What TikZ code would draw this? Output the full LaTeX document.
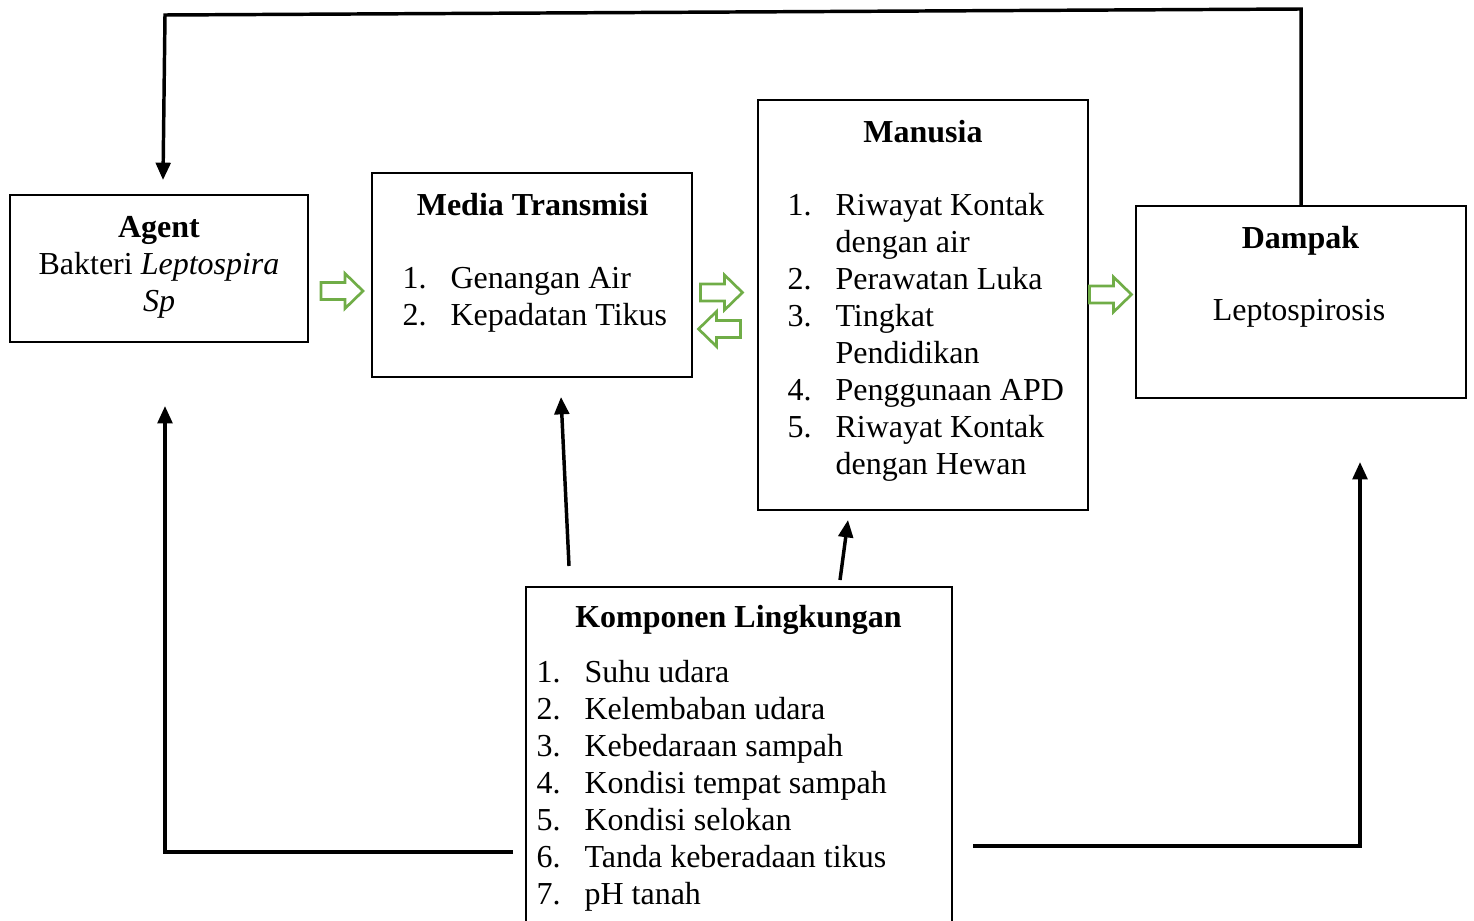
\documentclass[tikz,border=0pt]{standalone}
\usepackage{fontspec}
\setmainfont{Liberation Serif}
\usetikzlibrary{arrows.meta}
\definecolor{arrowgreen}{HTML}{70AD47}

\tikzset{
  box/.style={draw, line width=0.75pt, inner sep=0pt},
  txt/.style={inner sep=0pt, font=\fontsize{12}{13.875}\selectfont},
  arr/.style={line width=1.3pt, -{Triangle[length=6.5pt,width=5.5pt]}},
  pics/hollowarrow/.style={code={
    \draw[arrowgreen, line width=1pt, line join=miter]
      (-21,-8.5) -- (3,-8.5) -- (3,-17.5) -- (21,0) -- (3,17.5) -- (3,8.5) -- (-21,8.5) -- cycle;
  }}
}

\begin{document}
\begin{tikzpicture}[x=0.375pt, y=-0.375pt]
  \useasboundingbox (0,0) rectangle (1474,920);

  % kotak
  \node[box, minimum width=111.75pt, minimum height=55.125pt] (agent) at (159,268.5) {};
  \node[box, minimum width=120pt, minimum height=76.5pt] (media) at (532,275) {};
  \node[box, minimum width=123.75pt, minimum height=153.75pt] (manusia) at (923,305) {};
  \node[box, minimum width=123.75pt, minimum height=72pt] (dampak) at (1301,302) {};
  \node[box, minimum width=159.75pt, minimum height=125.625pt] (lingkungan) at (739,754.5) {};

  % isi kotak
  \node[txt, anchor=base] (agenttxt) at (159,237) {\begin{tabular}[t]{@{}c@{}}
    \textbf{Agent}\\ Bakteri \textit{Leptospira}\\ \textit{Sp}\end{tabular}};

  \node[txt, anchor=base] (mediatitle) at (532.5,215) {\textbf{Media Transmisi}};
  \node[txt, anchor=base west] (medialist) at (402,288) {\begin{tabular}[t]{@{}p{18pt}@{}l@{}}
    1. & Genangan Air\\ 2. & Kepadatan Tikus\end{tabular}};

  \node[txt, anchor=base] (manusiatitle) at (923,142) {\textbf{Manusia}};
  \node[txt, anchor=base west] (manusialist) at (787,215) {\begin{tabular}[t]{@{}p{18pt}@{}l@{}}
    1. & Riwayat Kontak\\ & dengan air\\
    2. & Perawatan Luka\\
    3. & Tingkat\\ & Pendidikan\\
    4. & Penggunaan APD\\
    5. & Riwayat Kontak\\ & dengan Hewan\end{tabular}};

  \node[txt, anchor=base] (dampaktitle) at (1300.5,248) {\textbf{Dampak}};
  \node[txt, anchor=base] (dampaktxt) at (1299,320) {Leptospirosis};

  \node[txt, anchor=base] (lingkungantitle) at (738.5,627) {\textbf{Komponen Lingkungan}};
  \node[txt, anchor=base west] (lingkunganlist) at (536,682) {\begin{tabular}[t]{@{}p{18pt}@{}l@{}}
    1. & Suhu udara\\
    2. & Kelembaban udara\\
    3. & Kebedaraan sampah\\
    4. & Kondisi tempat sampah\\
    5. & Kondisi selokan\\
    6. & Tanda keberadaan tikus\\
    7. & pH tanah\end{tabular}};

  % panah hijau
  \pic at (342,291) {hollowarrow};
  \pic at (721.5,292.5) {hollowarrow};
  \pic[rotate=180] at (719.5,329) {hollowarrow};
  \pic at (1110.5,294.5) {hollowarrow};

  % ujung bebas
  \coordinate (topR) at (1301,9);
  \coordinate (topL) at (165,15);
  \coordinate (agentTop) at (163,180);
  \coordinate (agentBot) at (165,406);
  \coordinate (botL) at (165,852);
  \coordinate (lingW) at (513,852);
  \coordinate (lingE) at (973,846);
  \coordinate (botR) at (1360,846);
  \coordinate (dampakBot) at (1360,462);
  \coordinate (mediaBot) at (561,397);
  \coordinate (lingN1) at (569,566);
  \coordinate (manusiaBot) at (848,520);
  \coordinate (lingN2) at (840,580);

  % panah hitam
  \draw[arr] (dampak.north) -- (topR) -- (topL) -- (agentTop);
  \draw[arr] (lingW) -- (botL) -- (agentBot);
  \draw[arr] (lingE) -- (botR) -- (dampakBot);
  \draw[arr] (lingN1) -- (mediaBot);
  \draw[arr] (lingN2) -- (manusiaBot);
\end{tikzpicture}
\end{document}
